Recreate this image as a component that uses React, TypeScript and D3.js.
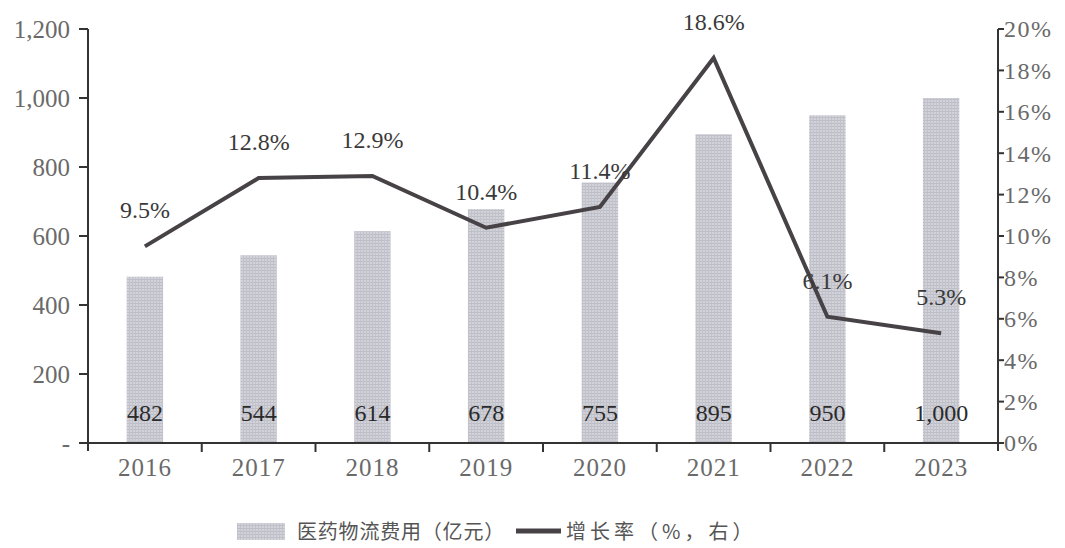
import React from "react";
import * as d3 from "d3";

const years = ["2016", "2017", "2018", "2019", "2020", "2021", "2022", "2023"];
const cost = [482, 544, 614, 678, 755, 895, 950, 1000];
const growth = [9.5, 12.8, 12.9, 10.4, 11.4, 18.6, 6.1, 5.3];
const leftTicks = [0, 200, 400, 600, 800, 1000, 1200];
const rightTicks = [0, 2, 4, 6, 8, 10, 12, 14, 16, 18, 20];
const barLegend = "医药物流费用（亿元）";
const lineLegend = "增长率（%，右）";

const W = 1065;
const H = 548;
const L = 88;
const R = 998;
const T = 29;
const B = 443;
const serif = "'Liberation Serif', 'DejaVu Serif', serif";
const cjk = "'Noto Sans CJK SC', sans-serif";

export default function App() {
  const band = d3.scaleBand<string>().domain(years).range([L, R]);
  const yL = d3.scaleLinear().domain([0, 1200]).range([B, T]);
  const yR = d3.scaleLinear().domain([0, 20]).range([B, T]);
  const cx = (d: string) => (band(d) as number) + band.bandwidth() / 2;
  const barW = band.bandwidth() * 0.32;
  const line = d3
    .line<number>()
    .x((_, i) => cx(years[i]))
    .y((d) => yR(d));
  const fmt = d3.format(",");
  const axisColor = "#333";
  const labelColor = "#6a6a6a";

  return (
    <svg
      width={W}
      height={H}
      style={{ position: "absolute", left: 0, top: 0, background: "#fff" }}
    >
      <defs>
        <pattern id="grid" width="3" height="3" patternUnits="userSpaceOnUse">
          <rect width="3" height="3" fill="#d2d2da" />
          <rect width="3" height="1" fill="#bdbdc6" />
          <rect width="1" height="3" fill="#c2c2ca" />
        </pattern>
      </defs>
      {years.map((yr, i) => (
        <rect
          key={yr}
          x={cx(yr) - barW / 2}
          width={barW}
          y={yL(cost[i])}
          height={B - yL(cost[i])}
          fill="url(#grid)"
        />
      ))}
      {years.map((yr, i) => (
        <text
          key={"v" + yr}
          x={cx(yr)}
          y={421}
          textAnchor="middle"
          fontFamily={serif}
          fontSize={24}
          fill="#2a2a2a"
        >
          {fmt(cost[i])}
        </text>
      ))}
      <line x1={L} x2={L} y1={T} y2={B + 8} stroke={axisColor} strokeWidth={2} />
      {leftTicks.map((t) => (
        <g key={"l" + t}>
          <line x1={L - 9} x2={L} y1={yL(t)} y2={yL(t)} stroke={axisColor} strokeWidth={2} />
          <text
            x={L - 18}
            y={yL(t)}
            dy="0.35em"
            textAnchor="end"
            fontFamily={serif}
            fontSize={25}
            fill={labelColor}
          >
            {t === 0 ? "-" : fmt(t)}
          </text>
        </g>
      ))}
      <line x1={R} x2={R} y1={T} y2={B + 8} stroke={axisColor} strokeWidth={2} />
      {rightTicks.map((t) => (
        <g key={"r" + t}>
          <line x1={R} x2={R + 6} y1={yR(t)} y2={yR(t)} stroke={axisColor} strokeWidth={2} />
          <text
            x={R + 6}
            y={yR(t)}
            dy="0.35em"
            textAnchor="start"
            fontFamily={serif}
            fontSize={24}
            letterSpacing={1.5}
            fill={labelColor}
          >
            {t + "%"}
          </text>
        </g>
      ))}
      <line x1={L - 4} x2={R + 6} y1={B} y2={B} stroke={axisColor} strokeWidth={2} />
      {years.slice(1).map((yr) => (
        <line
          key={"bt" + yr}
          x1={band(yr) as number}
          x2={band(yr) as number}
          y1={B}
          y2={B + 9}
          stroke={axisColor}
          strokeWidth={2}
        />
      ))}
      {years.map((yr) => (
        <text
          key={"x" + yr}
          x={cx(yr)}
          y={476}
          textAnchor="middle"
          fontFamily={serif}
          fontSize={25}
          letterSpacing={1}
          fill={labelColor}
        >
          {yr}
        </text>
      ))}
      <path d={line(growth) || ""} fill="none" stroke="#474246" strokeWidth={4} strokeLinejoin="miter" />
      {growth.map((g, i) => (
        <text
          key={"g" + i}
          x={cx(years[i])}
          y={yR(g) - 28}
          textAnchor="middle"
          fontFamily={serif}
          fontSize={24}
          fill="#3a3a3a"
        >
          {g.toFixed(1) + "%"}
        </text>
      ))}
      <rect x={237} y={523} width={48} height={17} fill="url(#grid)" />
      <text x={297} y={539} fontFamily={cjk} fontSize={20} letterSpacing={0.8} fill="#555">
        {barLegend}
      </text>
      <line x1={516} x2={561} y1={531} y2={531} stroke="#474246" strokeWidth={5} />
      <text x={566} y={539} fontFamily={cjk} fontSize={20} letterSpacing={4} fill="#555">
        {lineLegend}
      </text>
    </svg>
  );
}
